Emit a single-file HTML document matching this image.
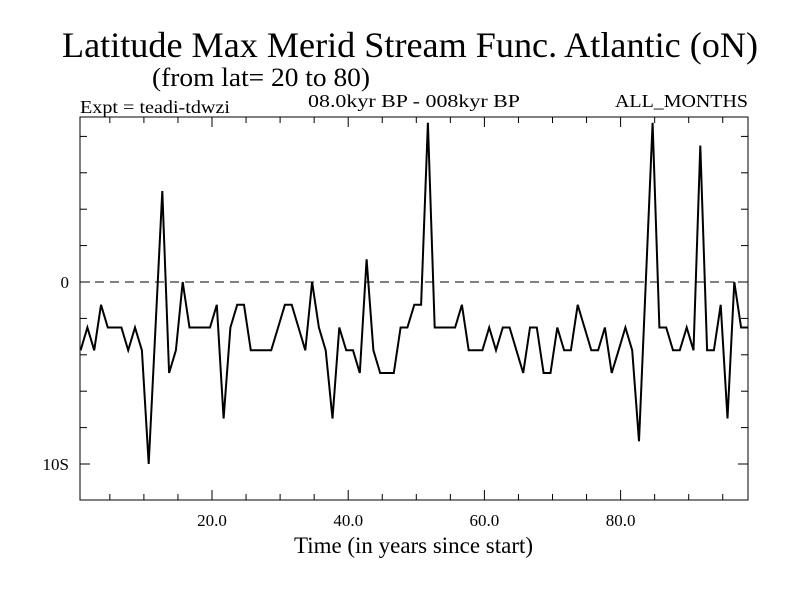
<!DOCTYPE html>
<html><head><meta charset="utf-8"><style>
body{margin:0;background:#fff}
svg{display:block;font-family:"Liberation Serif",serif}
</style></head><body>
<svg width="800" height="600">
<rect width="800" height="600" fill="#fff"/>
<text x="410" y="57" font-size="36" text-anchor="middle" textLength="696" lengthAdjust="spacingAndGlyphs">Latitude Max Merid Stream Func. Atlantic (oN)</text>
<text x="152" y="86" font-size="26" textLength="218" lengthAdjust="spacingAndGlyphs">(from lat= 20 to 80)</text>
<text x="80" y="113" font-size="18" textLength="150" lengthAdjust="spacingAndGlyphs">Expt = teadi-tdwzi</text>
<text x="308" y="107" font-size="18" textLength="212" lengthAdjust="spacingAndGlyphs">08.0kyr BP - 008kyr BP</text>
<text x="615" y="107" font-size="18" textLength="133" lengthAdjust="spacingAndGlyphs">ALL_MONTHS</text>
<g id="axes"></g>
<line x1="80" y1="282" x2="748" y2="282" stroke="#000" stroke-dasharray="9,6" stroke-width="1"/>
<polyline id="series" fill="none" stroke="#000" stroke-width="2"/>
<rect x="80" y="117" width="668" height="383" fill="none" stroke="#000" stroke-width="1"/>
<text x="294" y="553" font-size="23" textLength="239" lengthAdjust="spacingAndGlyphs">Time (in years since start)</text>
</svg>
<script>
const startTime = 0.7;
const values = [-3.75,-2.5,-3.75,-1.25,-2.5,-2.5,-2.5,-3.75,-2.5,-3.75,
-10,-2.5,5,-5,-3.75,0,-2.5,-2.5,-2.5,-2.5,
-1.25,-7.5,-2.5,-1.25,-1.25,-3.75,-3.75,-3.75,-3.75,-2.5,
-1.25,-1.25,-2.5,-3.75,0,-2.5,-3.75,-7.5,-2.5,-3.75,
-3.75,-5,1.25,-3.75,-5,-5,-5,-2.5,-2.5,-1.25,
-1.25,8.75,-2.5,-2.5,-2.5,-2.5,-1.25,-3.75,-3.75,-3.75,
-2.5,-3.75,-2.5,-2.5,-3.75,-5,-2.5,-2.5,-5,-5,
-2.5,-3.75,-3.75,-1.25,-2.5,-3.75,-3.75,-2.5,-5,-3.75,
-2.5,-3.75,-8.75,0,8.75,-2.5,-2.5,-3.75,-3.75,-2.5,
-3.75,7.5,-3.75,-3.75,-1.25,-7.5,0,-2.5,-2.5];
const xTickLabels = ["20.0","40.0","60.0","80.0"];
const xTickValues = [20,40,60,80];
const yTickLabels = ["0","10S"];
const yTickValues = [0,-10];

const X = t => 212 + (t-20)*6.81;
const Y = v => 282 - v*18.2;
const ns = "http://www.w3.org/2000/svg";
const axes = document.getElementById('axes');
function ln(x1,y1,x2,y2,name){
  const l=document.createElementNS(ns,'line');
  l.setAttribute('x1',x1);l.setAttribute('y1',y1);l.setAttribute('x2',x2);l.setAttribute('y2',y2);
  l.setAttribute('stroke','#000');l.setAttribute('stroke-width','1');
  
  
  axes.appendChild(l);
}
function tx(x,y,s,anchor,name){
  const t=document.createElementNS(ns,'text');
  t.setAttribute('x',x);t.setAttribute('y',y);t.setAttribute('font-size','17');t.setAttribute('text-anchor',anchor);
  t.textContent=s;
  
  
  axes.appendChild(t);
}
for(let t=5;t<=95;t+=5){
  const x=X(t); const major=(t%20===0); const L=major?10:6;
  ln(x,500,x,500-L,'x-tick-bottom');
  ln(x,117,x,117+L,'x-tick-top');
}
for(let v=8;v>=-12;v-=2){
  const y=Y(v); if(y<118||y>499) continue;
  const major=(v%10===0); const L=major?10:7;
  ln(80,y,80+L,y,'y-tick-left');
  ln(748,y,748-L,y,'y-tick-right');
}
xTickValues.forEach((v,i)=>tx(X(v),526,xTickLabels[i],'middle','x-tick-label'));
yTickValues.forEach((v,i)=>tx(69,Y(v)+6,yTickLabels[i],'end','y-tick-label'));
document.getElementById('series').setAttribute('points',
  values.map((v,i)=>X(startTime+i).toFixed(1)+','+Y(v).toFixed(1)).join(' '));
</script>
</body></html>
